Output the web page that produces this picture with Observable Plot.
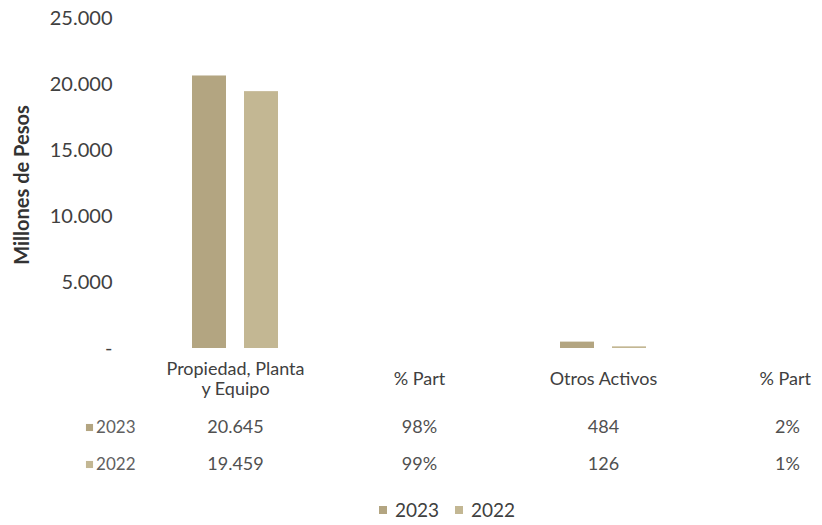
<!DOCTYPE html>
<html>
<head>
<meta charset="utf-8">
<script src="https://cdn.jsdelivr.net/npm/d3@7"></script>
<script src="https://cdn.jsdelivr.net/npm/@observablehq/plot@0.6"></script>
<style>
  body { margin: 0; background: #fff; font-family: Lato, "Open Sans", sans-serif; }
  #wrap { position: relative; width: 822px; }
  #ytitle { position: absolute; left: 21px; top: 185px; transform: translate(-50%, -50%) rotate(-90deg); white-space: nowrap; font-weight: bold; font-size: 20px; color: #333; }
  .legend { display: flex; justify-content: center; gap: 16px; font-size: 19px; color: #404040; margin-top: 9px; padding-left: 72px; line-height: 22px; }
  .legend .item { display: flex; align-items: center; }
  .legend span.sw { display: inline-block; width: 8px; height: 8px; margin-right: 8px; }
</style>
</head>
<body>
<div id="wrap">
  <div id="ytitle">Millones de Pesos</div>
  <div id="chart"></div>
  <div class="legend" id="legend"></div>
</div>
<script>
// Data
const categories = ["Propiedad, Planta\ny Equipo", "% Part", "Otros Activos", "% Part "];
const years = ["2023", "2022"];
const values2023 = [20645, null, 484, null];
const values2022 = [19459, null, 126, null];
const labels2023 = ["20.645", "98%", "484", "2%"];
const labels2022 = ["19.459", "99%", "126", "1%"];
const yTicks = [0, 5000, 10000, 15000, 20000, 25000];
const colors = ["#b3a581", "#c3b793"];

const bars = [];
categories.forEach((c, i) => {
  if (values2023[i] != null) bars.push({cat: c, year: "2023", value: values2023[i]});
  if (values2022[i] != null) bars.push({cat: c, year: "2022", value: values2022[i]});
});
const table = categories.map((c, i) => ({cat: c, v23: labels2023[i], v22: labels2022[i]}));
const row23 = [{cat: categories[0], year: years[0]}];
const row22 = [{cat: categories[0], year: years[1]}];

const fmt = d => d === 0 ? "-" : d3.format(",")(d).replace(/,/g, ".");

const chart = Plot.plot({
  width: 822,
  height: 490,
  marginTop: 18,
  marginBottom: 142,
  marginLeft: 143,
  marginRight: 0,
  style: {fontFamily: "Lato, 'Open Sans', sans-serif", fontSize: "16px", color: "#404040", overflow: "visible"},
  fx: {domain: categories, range: [143, 879], padding: 0, axis: null},
  x: {domain: years, paddingInner: 0.346, paddingOuter: 0.942, axis: null},
  y: {domain: [0, 25000], axis: null},
  color: {domain: years, range: colors},
  marks: [
    Plot.axisY({ticks: yTicks, tickFormat: fmt, tickSize: 0, tickPadding: 31, fontSize: 20, fill: "#404040", label: null}),
    Plot.barY(bars, {fx: "cat", x: "year", y: "value", fill: "year"}),
    // table headers
    Plot.text(table, {fx: "cat", text: "cat", frameAnchor: "bottom", lineAnchor: "middle", dy: 30, fontSize: 18, fill: "#404040", lineHeight: 1.12}),
    // 2023 row
    Plot.text(table, {fx: "cat", text: "v23", frameAnchor: "bottom", lineAnchor: "middle", dy: 79, fontSize: 18, fill: "#505050"}),
    // 2022 row
    Plot.text(table, {fx: "cat", text: "v22", frameAnchor: "bottom", lineAnchor: "middle", dy: 116, fontSize: 18, fill: "#505050"}),
    // row labels
    Plot.text(row23, {fx: "cat", text: "year", frameAnchor: "bottom-left", textAnchor: "end", lineAnchor: "middle", dx: -8, dy: 79, fontSize: 17, fill: "#606060"}),
    Plot.text(row22, {fx: "cat", text: "year", frameAnchor: "bottom-left", textAnchor: "end", lineAnchor: "middle", dx: -8, dy: 116, fontSize: 17, fill: "#606060"}),
    Plot.dot(row23, {fx: "cat", fill: "year", symbol: "square", r: 4, frameAnchor: "bottom-left", dx: -54, dy: 79}),
    Plot.dot(row22, {fx: "cat", fill: "year", symbol: "square", r: 4, frameAnchor: "bottom-left", dx: -54, dy: 116})
  ]
});
document.getElementById("chart").appendChild(chart);

const legend = document.getElementById("legend");
years.forEach((y, i) => {
  const item = document.createElement("div");
  item.className = "item";
  item.innerHTML = `<span class="sw" style="background:${colors[i]}"></span>${y}`;
  legend.appendChild(item);
});
</script>
</body>
</html>
